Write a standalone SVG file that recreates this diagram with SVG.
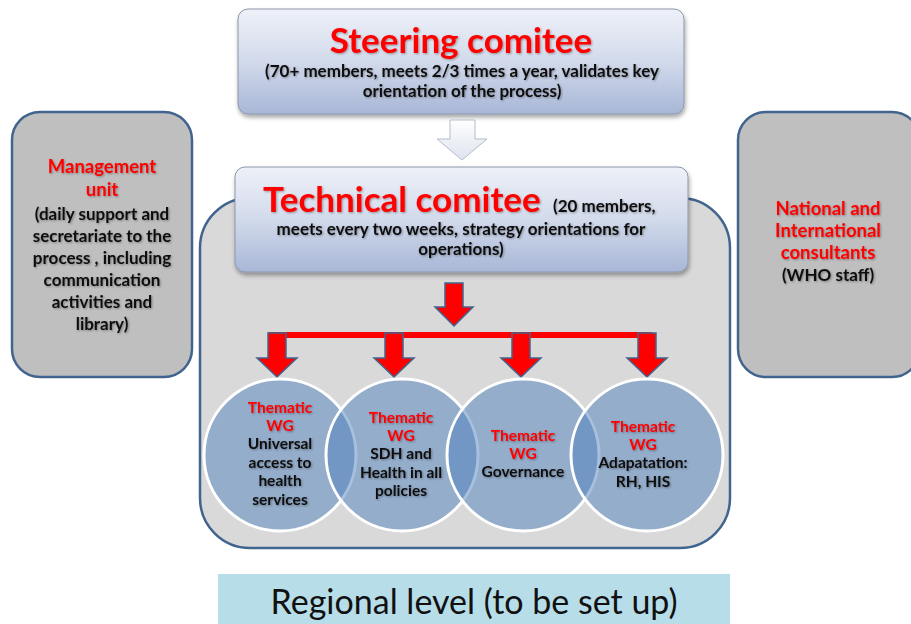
<svg xmlns="http://www.w3.org/2000/svg" width="911" height="624" viewBox="0 0 911 624">
  <defs>
    <linearGradient id="boxGrad" x1="0" y1="0" x2="0" y2="1">
      <stop offset="0" stop-color="#eef1f8"/>
      <stop offset="0.5" stop-color="#d2daeb"/>
      <stop offset="1" stop-color="#a8b7d7"/>
    </linearGradient>
    <linearGradient id="hollowGrad" x1="0" y1="0" x2="0" y2="1">
      <stop offset="0" stop-color="#ffffff"/>
      <stop offset="1" stop-color="#dde3ee"/>
    </linearGradient>
    <filter id="boxShadow" x="-10%" y="-10%" width="120%" height="130%">
      <feDropShadow dx="1" dy="3" stdDeviation="2" flood-color="#000" flood-opacity="0.35"/>
    </filter>
    <filter id="textShadow" x="-10%" y="-30%" width="120%" height="160%">
      <feDropShadow dx="1" dy="1" stdDeviation="1" flood-color="#000" flood-opacity="0.35"/>
    </filter>
  </defs>
  <style>
    text { font-family: Lato, "Open Sans", "Liberation Sans", sans-serif; text-anchor: middle; }
    .title { font-weight: bold; fill: #ff0000; font-size: 35px; filter: url(#textShadow); }
    .red { font-weight: bold; fill: #ff0000; font-size: 18.5px; filter: url(#textShadow); }
    .blk { font-weight: bold; fill: #111; font-size: 17px; filter: url(#textShadow); }
    .wgr { font-weight: bold; fill: #ff0000; font-size: 15.5px; filter: url(#textShadow); }
    .wgb { font-weight: bold; fill: #111; font-size: 15.5px; filter: url(#textShadow); }
    .side { fill: #bfbfbf; stroke: #41648f; stroke-width: 2.5; }
    .blue { fill: url(#boxGrad); stroke: #8c96a8; stroke-width: 1; filter: url(#boxShadow); }
    .wg { fill: #4f81bd; fill-opacity: 0.5; stroke: #ffffff; stroke-width: 3; }
    .redArrow { fill: #ff0000; stroke: #41648f; stroke-width: 1.5; stroke-linejoin: miter; }
  </style>

  <!-- side units -->
  <g id="management-unit">
    <rect class="side" x="12" y="112" width="180" height="265" rx="28"/>
    <text class="red" x="102" y="173">Management</text>
    <text class="red" x="102" y="196">unit</text>
    <text class="blk" x="102" y="220">(daily support and</text>
    <text class="blk" x="102" y="242">secretariate to the</text>
    <text class="blk" x="102" y="264">process , including</text>
    <text class="blk" x="102" y="286">communication</text>
    <text class="blk" x="102" y="308">activities and</text>
    <text class="blk" x="102" y="330">library)</text>
  </g>
  <g id="consultants">
    <rect class="side" x="738" y="112" width="182" height="265" rx="28"/>
    <text class="red" x="828" y="215">National and</text>
    <text class="red" x="828" y="237">International</text>
    <text class="red" x="828" y="259">consultants</text>
    <text class="blk" x="828" y="281">(WHO staff)</text>
  </g>

  <!-- national container -->
  <g id="national-level">
    <rect x="200" y="198" width="530" height="350" rx="50" fill="#d9d9d9" stroke="#41648f" stroke-width="2.5"/>
  </g>

  <g id="steering-committee">
    <rect class="blue" x="238" y="9" width="446" height="105" rx="10"/>
    <text class="title" x="461" y="53">Steering comitee</text>
    <text class="blk" x="462" y="77">(70+ members, meets 2/3 times a year, validates key</text>
    <text class="blk" x="462" y="97">orientation of the process)</text>
  </g>

  <g id="technical-committee">
    <rect class="blue" x="235" y="167" width="453" height="105" rx="10"/>
    <text class="title" x="263" y="212" style="text-anchor:start">Technical comitee</text>
    <text class="blk" x="553" y="212" style="text-anchor:start">(20 members,</text>
    <text class="blk" x="461" y="235">meets every two weeks, strategy orientations for</text>
    <text class="blk" x="461" y="255">operations)</text>
  </g>

  <!-- connectors -->
  <g id="connectors">
    <path d="M450 120 H475 V139 H487 L462 160 L437 139 H450 Z" fill="url(#hollowGrad)" stroke="#b4bccb" stroke-width="1"/>
    <path class="redArrow" d="M445 283 H463 V307 H473 L454 326 L435 307 H445 Z"/>
    <rect x="268" y="332" width="384" height="6" fill="#ff0000"/>
    <path class="redArrow" d="M268 333 H286 V358 H297 L277 377 L257 358 H268 Z"/>
    <path class="redArrow" d="M385 333 H403 V358 H414 L394 377 L374 358 H385 Z"/>
    <path class="redArrow" d="M512 333 H530 V358 H541 L521 377 L501 358 H512 Z"/>
    <path class="redArrow" d="M638 333 H656 V358 H667 L647 377 L627 358 H638 Z"/>
  </g>

  <!-- thematic working groups -->
  <g id="wg-universal-access">
    <circle class="wg" cx="280" cy="455" r="76"/>
  </g>
  <g id="wg-sdh">
    <circle class="wg" cx="402" cy="455" r="76"/>
  </g>
  <g id="wg-governance">
    <circle class="wg" cx="523" cy="455" r="76"/>
  </g>
  <g id="wg-adaptation">
    <circle class="wg" cx="647" cy="455" r="76"/>
  </g>
  <g id="wg-labels">
    <text class="wgr" x="280" y="413">Thematic</text>
    <text class="wgr" x="280" y="431">WG</text>
    <text class="wgb" x="280" y="449">Universal</text>
    <text class="wgb" x="280" y="468">access to</text>
    <text class="wgb" x="280" y="486">health</text>
    <text class="wgb" x="280" y="505">services</text>

    <text class="wgr" x="401" y="423">Thematic</text>
    <text class="wgr" x="401" y="441">WG</text>
    <text class="wgb" x="401" y="459">SDH and</text>
    <text class="wgb" x="401" y="478">Health in all</text>
    <text class="wgb" x="401" y="496">policies</text>

    <text class="wgr" x="523" y="441">Thematic</text>
    <text class="wgr" x="523" y="459">WG</text>
    <text class="wgb" x="523" y="477">Governance</text>

    <text class="wgr" x="643" y="432">Thematic</text>
    <text class="wgr" x="643" y="450">WG</text>
    <text class="wgb" x="643" y="468">Adapatation:</text>
    <text class="wgb" x="643" y="487">RH, HIS</text>
  </g>

  <g id="regional-level">
    <rect x="218" y="574" width="512" height="56" fill="#b7dde8"/>
    <text x="474" y="614" font-size="34" fill="#111">Regional level (to be set up)</text>
  </g>
</svg>
